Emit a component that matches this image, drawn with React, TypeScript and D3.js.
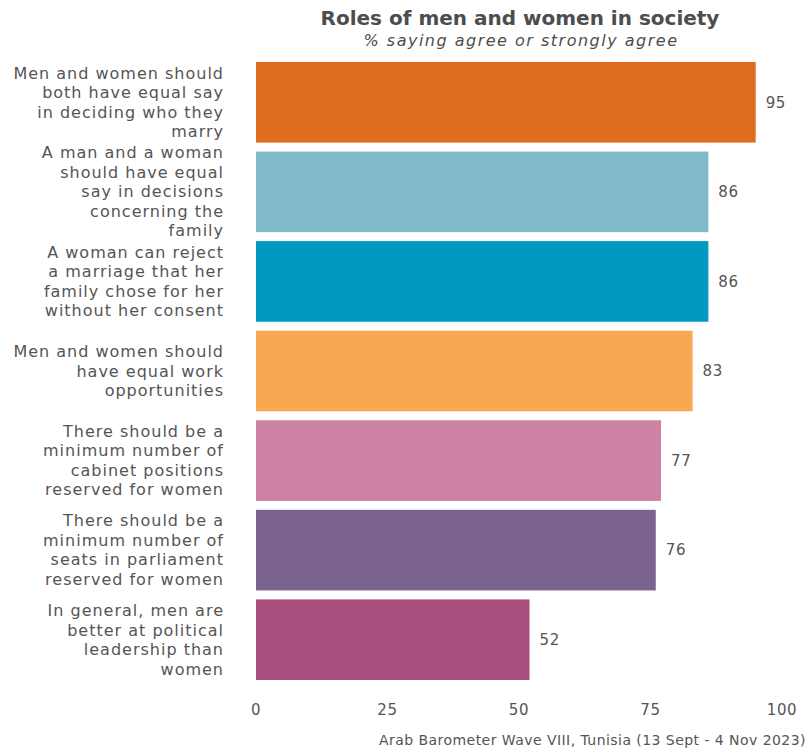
import React from "react";
import * as d3 from "d3";

const categories: string[][] = [
  ["Men and women should", "both have equal say", "in deciding who they", "marry"],
  ["A man and a woman", "should have equal", "say in decisions", "concerning the", "family"],
  ["A woman can reject", "a marriage that her", "family chose for her", "without her consent"],
  ["Men and women should", "have equal work", "opportunities"],
  ["There should be a", "minimum number of", "cabinet positions", "reserved for women"],
  ["There should be a", "minimum number of", "seats in parliament", "reserved for women"],
  ["In general, men are", "better at political", "leadership than", "women"],
];
const values: number[] = [95, 86, 86, 83, 77, 76, 52];
const colors: string[] = ["#DF6D20", "#80BACA", "#0199C1", "#F8A851", "#CE82A3", "#7A638E", "#A94F7E"];
const ticks: number[] = [0, 25, 50, 75, 100];

const W = 809;
const H = 750;
const FONT = "'DejaVu Sans', sans-serif";
const TXT = "#555555";

export default function App() {
  const x = d3.scaleLinear().domain([0, 100]).range([256, 782]);
  const idx = d3.range(values.length).map(String);
  const y = d3.scaleBand().domain(idx).range([57.5, 684.5]).paddingInner(0.1).paddingOuter(0.05);
  const lh = 19.5;
  return (
    <svg width={W} height={H} style={{ position: "absolute", left: 0, top: 0 }} fontFamily={FONT}>
      <text x={520} y={25} textAnchor="middle" fontSize={20} fontWeight="bold" fill="#4d4d4d">
        Roles of men and women in society
      </text>
      <text x={521} y={45.5} textAnchor="middle" fontSize={16} fontStyle="italic" fill="#4d4d4d" letterSpacing={1.5}>
        % saying agree or strongly agree
      </text>
      {values.map((v, i) => {
        const y0 = y(String(i))!;
        const bw = y.bandwidth();
        const cy = y0 + bw / 2;
        const lines = categories[i];
        return (
          <g key={i}>
            <rect x={x(0)} y={y0} width={x(v) - x(0)} height={bw} fill={colors[i]} />
            <text x={x(v) + 10} y={cy} dy="0.35em" fontSize={15} letterSpacing={0.6} fill={TXT}>
              {v}
            </text>
            <text x={224} y={cy - ((lines.length - 1) * lh) / 2} fontSize={16} letterSpacing={1} fill={TXT} textAnchor="end">
              {lines.map((l, j) => (
                <tspan key={j} x={224} dy={j === 0 ? "0.35em" : lh}>
                  {l}
                </tspan>
              ))}
            </text>
          </g>
        );
      })}
      {ticks.map((t) => (
        <text key={t} x={x(t)} y={710} dy="0.35em" textAnchor="middle" fontSize={15} letterSpacing={0.6} fill={TXT}>
          {t}
        </text>
      ))}
      <text x={806} y={740} dy="0.35em" textAnchor="end" fontSize={14} letterSpacing={0.45} fill={TXT}>
        Arab Barometer Wave VIII, Tunisia (13 Sept - 4 Nov 2023)
      </text>
    </svg>
  );
}
